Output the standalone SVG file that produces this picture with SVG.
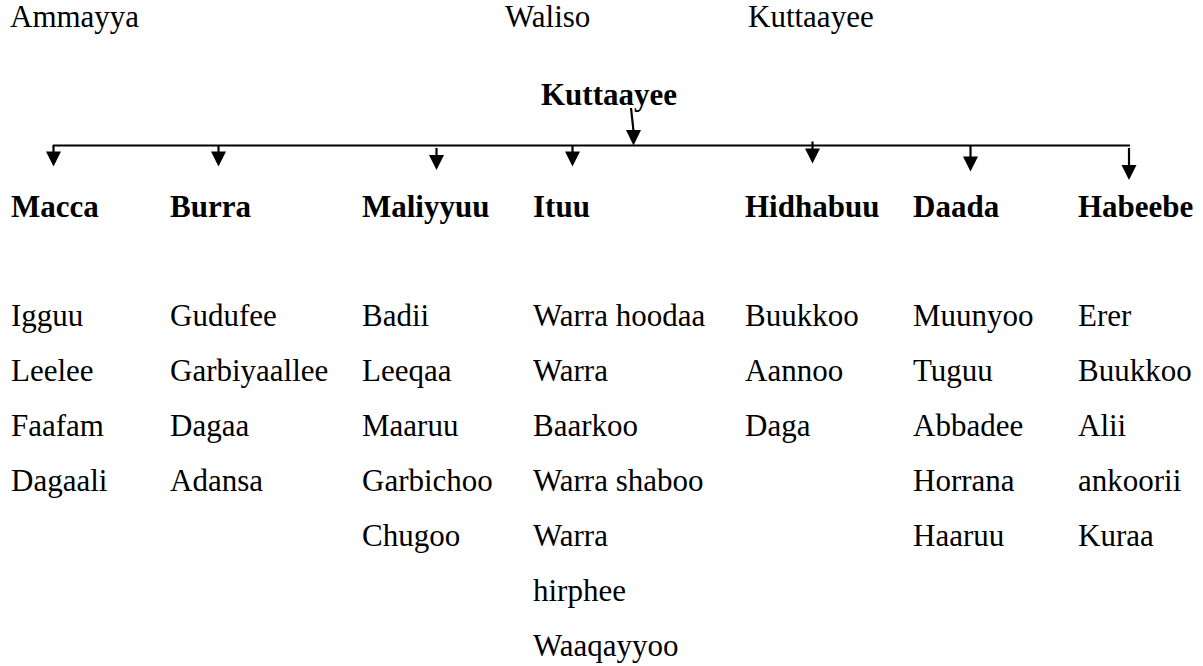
<svg xmlns="http://www.w3.org/2000/svg" width="1203" height="666" viewBox="0 0 1203 666">
<style>
text{font-family:"Liberation Serif","Times New Roman",serif;font-size:31px;fill:#000}
.b{font-weight:bold}
.ln{stroke:#000;stroke-width:2.2;fill:none}
</style>
<rect width="1203" height="666" fill="#fff"/>
<g id="header">
<text x="10" y="27">Ammayya</text>
<text x="505" y="27">Waliso</text>
<text x="748" y="27">Kuttaayee</text>
</g>
<g id="root"><text class="b" x="541" y="105">Kuttaayee</text></g>
<g id="connectors" fill="#000">
<line class="ln" x1="53" y1="145.5" x2="1130" y2="145.5"/>
<line class="ln" x1="631" y1="108" x2="633.5" y2="131"/><path d="M626,130 L641,130 L633.5,145.5 Z"/>
<line class="ln" x1="53.5" y1="145" x2="53.5" y2="153"/><path d="M46,151.5 L61,151.5 L53.5,166.5 Z"/>
<line class="ln" x1="218.5" y1="145" x2="218.5" y2="153"/><path d="M211,151.5 L226,151.5 L218.5,166.5 Z"/>
<line class="ln" x1="436.5" y1="148" x2="436.5" y2="157"/><path d="M429,155 L444,155 L436.5,170 Z"/>
<line class="ln" x1="572.5" y1="145" x2="572.5" y2="153"/><path d="M565,151.5 L580,151.5 L572.5,166.5 Z"/>
<line class="ln" x1="812.5" y1="141.5" x2="812.5" y2="150"/><path d="M805,148.5 L820,148.5 L812.5,163.5 Z"/>
<line class="ln" x1="970.5" y1="145" x2="970.5" y2="158"/><path d="M963,156.5 L978,156.5 L970.5,171.5 Z"/>
<line class="ln" x1="1129" y1="148" x2="1129" y2="166"/><path d="M1121.5,165 L1136.5,165 L1129,180 Z"/>
</g>
<g id="macca"><text class="b" x="11" y="217">Macca</text>
<text x="11" y="326">Igguu</text><text x="11" y="381">Leelee</text><text x="11" y="436">Faafam</text><text x="11" y="491">Dagaali</text></g>
<g id="burra"><text class="b" x="170" y="217">Burra</text>
<text x="170" y="326">Gudufee</text><text x="170" y="381">Garbiyaallee</text><text x="170" y="436">Dagaa</text><text x="170" y="491">Adansa</text></g>
<g id="maliyyuu"><text class="b" x="362" y="217">Maliyyuu</text>
<text x="362" y="326">Badii</text><text x="362" y="381">Leeqaa</text><text x="362" y="436">Maaruu</text><text x="362" y="491">Garbichoo</text><text x="362" y="546">Chugoo</text></g>
<g id="ituu"><text class="b" x="533" y="217">Ituu</text>
<text x="533" y="326">Warra hoodaa</text><text x="533" y="381">Warra</text><text x="533" y="436">Baarkoo</text><text x="533" y="491">Warra shaboo</text><text x="533" y="546">Warra</text><text x="533" y="601">hirphee</text><text x="533" y="656">Waaqayyoo</text></g>
<g id="hidhabuu"><text class="b" x="745" y="217">Hidhabuu</text>
<text x="745" y="326">Buukkoo</text><text x="745" y="381">Aannoo</text><text x="745" y="436">Daga</text></g>
<g id="daada"><text class="b" x="913" y="217">Daada</text>
<text x="913" y="326">Muunyoo</text><text x="913" y="381">Tuguu</text><text x="913" y="436">Abbadee</text><text x="913" y="491">Horrana</text><text x="913" y="546">Haaruu</text></g>
<g id="habeebe"><text class="b" x="1078" y="217">Habeebe</text>
<text x="1078" y="326">Erer</text><text x="1078" y="381">Buukkoo</text><text x="1078" y="436">Alii</text><text x="1078" y="491">ankoorii</text><text x="1078" y="546">Kuraa</text></g>
</svg>
